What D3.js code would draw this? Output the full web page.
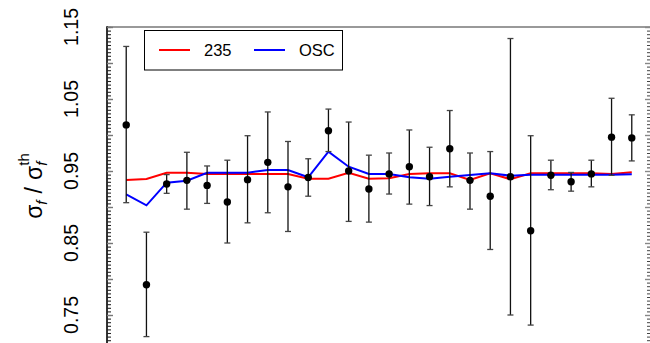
<!DOCTYPE html>
<html><head><meta charset="utf-8">
<script src="https://cdn.jsdelivr.net/npm/d3@7"></script>
<style>body{margin:0;background:#fff}svg{display:block}text{font-family:"Liberation Sans",Arial,sans-serif}</style>
</head><body>
<svg id="c" width="650" height="343"></svg>
<script>
const idx = d3.range(1, 27);
const ratio = [1.014,0.792,0.932,0.937,0.930,0.907,0.938,0.962,0.928,0.941,1.006,0.950,0.925,0.946,0.956,0.942,0.981,0.937,0.915,0.942,0.867,0.944,0.935,0.946,0.997,0.996];
const errHi = [1.123,0.865,0.945,0.976,0.957,0.965,0.999,1.032,0.991,0.967,1.036,1.018,0.972,0.975,1.007,0.983,1.034,0.975,0.977,1.134,0.999,0.965,0.948,0.965,1.051,1.028];
const errLo = [0.906,0.720,0.919,0.897,0.905,0.850,0.878,0.892,0.866,0.915,0.977,0.880,0.879,0.918,0.904,0.902,0.928,0.897,0.841,0.750,0.736,0.924,0.922,0.928,0.944,0.964];
const pred235 = [0.9375,0.939,0.9476,0.9476,0.9458,0.9458,0.9458,0.9458,0.9458,0.9393,0.9393,0.9476,0.9393,0.9398,0.9458,0.9468,0.9468,0.9375,0.9468,0.9385,0.9468,0.9468,0.9468,0.9468,0.9458,0.9482];
const predOSC = [0.9176,0.9023,0.9338,0.9365,0.9476,0.9476,0.9476,0.9514,0.9514,0.9413,0.9768,0.956,0.9458,0.9458,0.9413,0.9393,0.9421,0.9444,0.9468,0.9435,0.9449,0.9449,0.9449,0.9449,0.9449,0.9454];
const yLabels = [0.75,0.85,0.95,1.05,1.15];
const legendNames = ["235","OSC"];
const colors = ["#ff0000","#0000ff"];

const svg = d3.select("#c");
const x = d3.scaleLinear().domain([0,27]).range([106,652]);
const y = d3.scaleLinear().domain([0.7,1.15]).range([27+0.45*720,27]);
const L = 107, R = 650, T = 27, B = 343;

svg.append("line").attr("x1",L).attr("x2",R).attr("y1",T).attr("y2",T).attr("stroke","#777").attr("stroke-width",1.6);
svg.append("line").attr("x1",L).attr("x2",L).attr("y1",T-0.8).attr("y2",B).attr("stroke","#000").attr("stroke-width",1.6);

const minor = d3.range(140,231).map(d=>d/200).filter(v=>v>=0.7);
const major = d3.range(14,24).map(d=>d/20);
svg.append("g").attr("transform",`translate(${L},0)`)
  .call(d3.axisRight(y).tickValues(minor).tickSize(4).tickFormat(""))
  .call(g=>{g.select(".domain").remove();g.selectAll("line").attr("stroke","#222").attr("stroke-width",1.1);});
svg.append("g").attr("transform",`translate(${L},0)`)
  .call(d3.axisRight(y).tickValues(major).tickSize(6).tickFormat(""))
  .call(g=>{g.select(".domain").remove();g.selectAll("line").attr("stroke","#777").attr("stroke-width",1.4);});
svg.append("g").attr("transform",`translate(${R},0)`)
  .call(d3.axisLeft(y).tickValues(minor).tickSize(3).tickFormat(""))
  .call(g=>{g.select(".domain").remove();g.selectAll("line").attr("stroke","#444").attr("stroke-width",1);});
svg.append("g").attr("transform",`translate(${R},0)`)
  .call(d3.axisLeft(y).tickValues(major).tickSize(5).tickFormat(""))
  .call(g=>{g.select(".domain").remove();g.selectAll("line").attr("stroke","#888").attr("stroke-width",1.4);});

svg.selectAll(".yl").data(yLabels).join("text")
  .attr("transform",d=>`translate(78,${y(d)}) rotate(-90)`)
  .attr("text-anchor","middle").attr("font-size",19.5).attr("fill","#000")
  .text(d=>d.toFixed(2));

// axis title
const t = svg.append("text").attr("transform","translate(42,186) rotate(-90)")
  .attr("text-anchor","middle").attr("font-size",23);
t.append("tspan").text("σ");
t.append("tspan").attr("font-size",15).attr("font-style","italic").attr("dy",5).text("f");
t.append("tspan").attr("dy",-5).attr("dx",7).text("/");
t.append("tspan").attr("dx",7).text("σ");
t.append("tspan").attr("font-size",15).attr("font-style","italic").attr("dy",5).text("f");
t.append("tspan").attr("font-size",15).attr("dx",-4).attr("dy",-18).text("th");

const line = d3.line().x((d,i)=>x(idx[i])).y(d=>y(d));
svg.append("path").datum(pred235).attr("d",line).attr("fill","none").attr("stroke",colors[0]).attr("stroke-width",2);
svg.append("path").datum(predOSC).attr("d",line).attr("fill","none").attr("stroke",colors[1]).attr("stroke-width",2);

const eb = svg.append("g");
idx.forEach((k,i)=>{
  const xx = x(k);
  eb.append("line").attr("x1",xx).attr("x2",xx).attr("y1",y(errHi[i])).attr("y2",y(errLo[i])).attr("stroke","#111").attr("stroke-width",1.3);
  [errHi[i],errLo[i]].forEach(v=>eb.append("line").attr("x1",xx-3).attr("x2",xx+3).attr("y1",y(v)).attr("y2",y(v)).attr("stroke","#444").attr("stroke-width",1.3));
});
svg.selectAll(".pt").data(ratio).join("circle")
  .attr("cx",(d,i)=>x(idx[i])).attr("cy",d=>y(d)).attr("r",3.7).attr("fill","#000");

const lg = svg.append("g");
lg.append("rect").attr("x",144.5).attr("y",30.5).attr("width",198).attr("height",39.5).attr("fill","#fff").attr("stroke","#000").attr("stroke-width",1);
const lx = [159,254], tx = [204,299];
legendNames.forEach((n,i)=>{
  lg.append("line").attr("x1",lx[i]).attr("x2",lx[i]+31).attr("y1",50).attr("y2",50).attr("stroke",colors[i]).attr("stroke-width",2);
  lg.append("text").attr("x",tx[i]).attr("y",56).attr("font-size",16.5).text(n);
});
</script>
</body></html>
